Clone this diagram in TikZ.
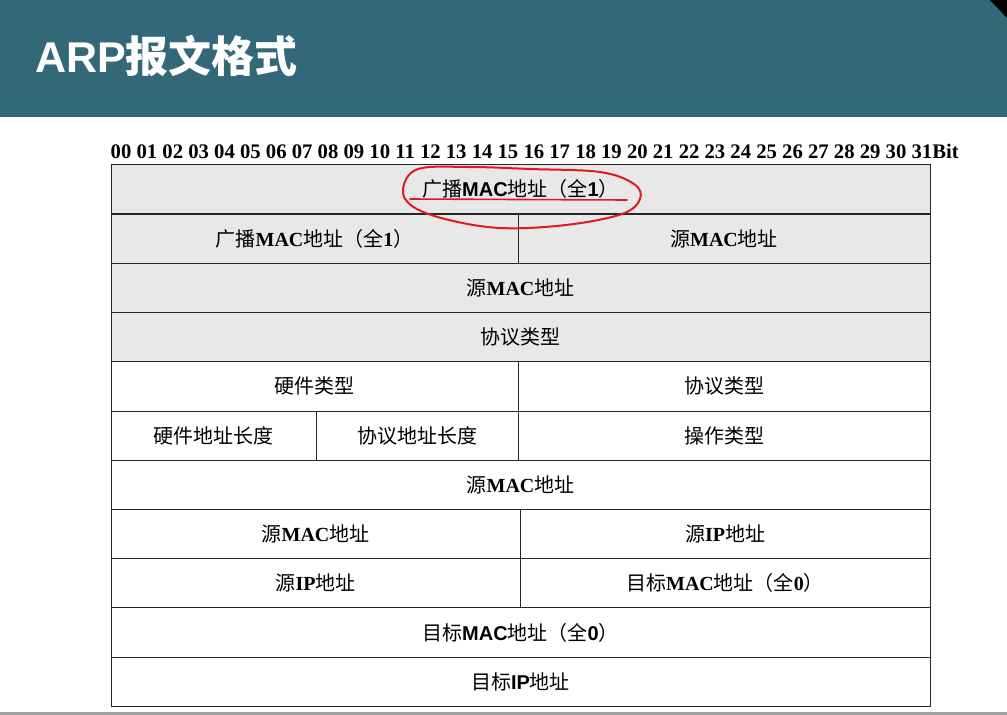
\documentclass[tikz,border=0pt]{standalone}
\usepackage{fontspec}
\usepackage{graphicx}
\setmainfont{Liberation Serif}
\newfontfamily\lsans{Liberation Sans}
\newfontfamily\cjk{Noto Sans CJK SC}
\definecolor{bandteal}{RGB}{51,104,120}
\definecolor{cellgray}{RGB}{232,232,232}
\definecolor{footgray}{RGB}{160,160,160}
\definecolor{penred}{RGB}{225,25,30}
\newcommand{\zh}[1]{{\cjk #1}}
\newcommand{\lat}[1]{\textbf{#1}}
\newcommand{\lsb}[1]{{\lsans\bfseries #1}}
\begin{document}
\begin{tikzpicture}[x=1pt,y=-1pt,
  cell/.style={draw=black!85,line width=1pt,minimum height=49.2pt,inner sep=0pt,font=\fontsize{20}{20}\selectfont},
  grey/.style={cell,fill=cellgray},
  full/.style={minimum width=819pt}]
\useasboundingbox (0,0) rectangle (1007,715);
\fill [bandteal] (0,0) rectangle (1007,117);
\fill [black] (990,0) -- (1007,0) -- (1007,18) -- cycle;
\fill [footgray] (0,712) rectangle (1007,715);
\node [anchor=base west,text=white,inner sep=0pt,font=\fontsize{43}{43}\selectfont\bfseries] (title) at (35,72) {\lsans ARP\cjk 报文格式};
\node [anchor=base west,inner sep=0pt] (bits) at (110.5,158.5) {\resizebox{848pt}{!}{\bfseries 00 01 02 03 04 05 06 07 08 09 10 11 12 13 14 15 16 17 18 19 20 21 22 23 24 25 26 27 28 29 30 31Bit}};
\node [grey,full] (bcast) at (520.5,188.6) {\zh{广播}\lsb{MAC}\zh{地址（全}\lsb{1}\zh{）}};
\node [grey,minimum width=407pt] (bcast2) at (314.5,238.8) {\zh{广播}\lat{MAC}\zh{地址（全}\lat{1}\zh{）}};
\node [grey,minimum width=412pt] (srcmac1) at (724,238.8) {\zh{源}\lat{MAC}\zh{地址}};
\node [grey,full] (srcmac2) at (520.5,288) {\zh{源}\lat{MAC}\zh{地址}};
\node [grey,full] (ethtype) at (520.5,337.2) {\zh{协议类型}};
\node [cell,minimum width=407pt] (hwtype) at (314.5,386.4) {\zh{硬件类型}};
\node [cell,minimum width=412pt] (prtype) at (724,386.4) {\zh{协议类型}};
\node [cell,minimum width=205pt] (hwlen) at (213.5,435.6) {\zh{硬件地址长度}};
\node [cell,minimum width=202pt] (prlen) at (417,435.6) {\zh{协议地址长度}};
\node [cell,minimum width=412pt] (op) at (724,435.6) {\zh{操作类型}};
\node [cell,full] (sha1) at (520.5,484.8) {\zh{源}\lat{MAC}\zh{地址}};
\node [cell,minimum width=409pt] (sha2) at (315.5,534) {\zh{源}\lat{MAC}\zh{地址}};
\node [cell,minimum width=410pt] (spa1) at (725,534) {\zh{源}\lat{IP}\zh{地址}};
\node [cell,minimum width=409pt] (spa2) at (315.5,583.2) {\zh{源}\lat{IP}\zh{地址}};
\node [cell,minimum width=410pt] (tha1) at (725,583.2) {\zh{目标}\lat{MAC}\zh{地址（全}\lat{0}\zh{）}};
\node [cell,full] (tha2) at (520.5,632.4) {\zh{目标}\lsb{MAC}\zh{地址（全}\lsb{0}\zh{）}};
\node [cell,full] (tpa) at (520.5,681.6) {\zh{目标}\lsb{IP}\zh{地址}};
\draw [penred,line width=2pt,line cap=round] plot [smooth cycle,tension=0.6] coordinates {(418,169) (470,167) (530,169) (600,172) (634,184) (640,199) (622,214) (566,225) (500,228) (445,219) (412,206) (403,189)};
\draw [penred,line width=1.6pt,line cap=round] (410,199) -- (627,200);
\end{tikzpicture}
\end{document}
